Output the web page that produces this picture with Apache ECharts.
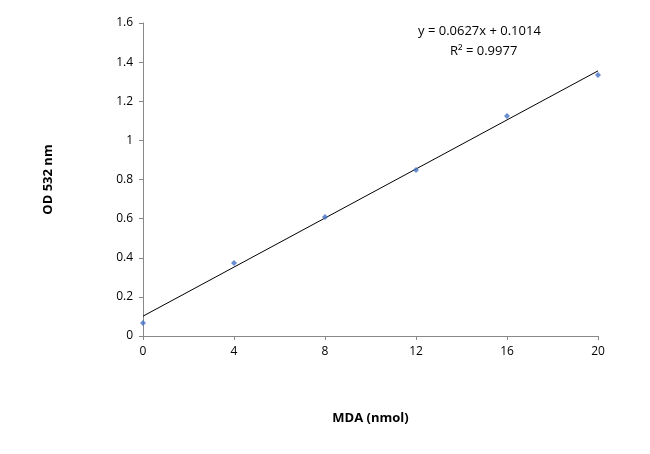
<!DOCTYPE html>
<html><head><meta charset="utf-8">
<script src="https://cdn.jsdelivr.net/npm/echarts@6/dist/echarts.min.js"></script>
<style>html,body{margin:0;padding:0;background:#fff}#c{width:650px;height:454px}</style>
</head><body><div id="c"></div>
<script>
var xs = [0, 4, 8, 12, 16, 20];
var ys = [0.066, 0.373, 0.608, 0.849, 1.125, 1.334];
var slope = 0.0627, intercept = 0.1014;
var trendX = [0, 20];
var pts = xs.map(function(x,i){return [x, ys[i]];});
var trend = trendX.map(function(x){return [x, slope*x+intercept];});
var font = '"Open Sans", "Liberation Sans", sans-serif';
var chart = echarts.init(document.getElementById('c'));
chart.setOption({
  animation:false,
  grid:{left:143,right:52,top:23,bottom:118},
  xAxis:{type:'value',min:0,max:20,interval:4,
    name:'MDA (nmol)',nameLocation:'middle',nameGap:76,
    nameTextStyle:{fontWeight:'bold',fontSize:13,color:'#000',fontFamily:font},
    axisLine:{lineStyle:{color:'#888'}},axisTick:{show:true,length:4,lineStyle:{color:'#888'}},
    axisLabel:{color:'#000',fontSize:12,fontFamily:font,margin:10},splitLine:{show:false}},
  yAxis:{type:'value',min:0,max:1.6,interval:0.2,
    name:'OD 532 nm',nameLocation:'middle',nameGap:88,
    nameTextStyle:{fontWeight:'bold',fontSize:13,color:'#000',fontFamily:font},
    axisLine:{show:true,lineStyle:{color:'#888'}},axisTick:{show:true,length:4,lineStyle:{color:'#888'}},
    axisLabel:{color:'#000',fontSize:12,fontFamily:font,margin:10,formatter:function(v){return String(+v.toFixed(1));}},
    splitLine:{show:false}},
  series:[
    {type:'line',data:trend,symbol:'none',lineStyle:{color:'#000',width:1},z:1},
    {type:'scatter',data:pts,symbol:'diamond',symbolSize:6,itemStyle:{color:'#4472C4'},z:2}
  ],
  graphic:[
    {type:'text',left:418,top:25,style:{text:'y = 0.0627x + 0.1014',fontSize:13,fontFamily:font,fill:'#000'}},
    {type:'text',left:450,top:45,style:{text:'R² = 0.9977',fontSize:13,fontFamily:font,fill:'#000'}}
  ]
});
</script></body></html>
